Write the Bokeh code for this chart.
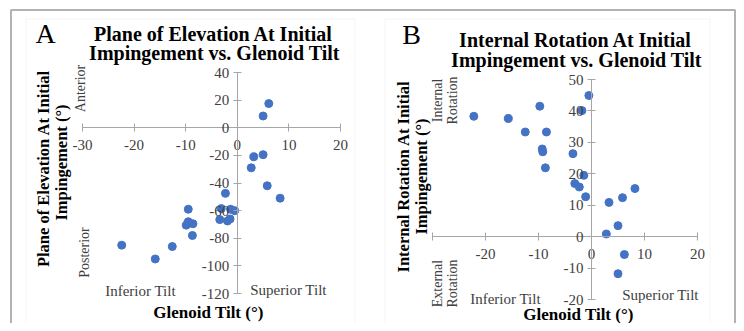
import math
from bokeh.plotting import figure
from bokeh.models import Range1d, LinearAxis, FixedTicker, Label, BoxAnnotation, ColumnDataSource
from bokeh.embed import file_html
from bokeh.resources import INLINE

# ---------------- data ----------------
# Panel A: Plane of elevation at initial impingement vs glenoid tilt
a_tilt = [-22.4, -15.9, -12.6, -9.5, -9.9, -9.5, -8.6, -8.7, -2.3, -3.1, -3.4,
          -1.3, -0.5, -1.9, -1.4, 2.7, 3.2, 5.0, 5.8, 8.3, 5.0, 6.1]
a_elev = [-85, -95, -86, -59, -70.5, -68, -69.5, -78, -47.5, -58.5, -66.5,
          -59, -60, -67.5, -66, -29, -21, -19.5, -42, -51, 8.5, 17.5]
# Panel B: Internal rotation at initial impingement vs glenoid tilt
b_tilt = [-22.2, -15.7, -12.5, -9.75, -8.5, -9.3, -9.2, -8.7, -3.5, -1.45, -3.15,
          -2.3, -1.1, -1.8, -0.5, 3.3, 5.85, 8.2, 5.0, 2.8, 6.2, 5.0]
b_rot = [38.3, 37.6, 33.3, 41.5, 33.3, 27.9, 27.0, 21.9, 26.4, 19.5, 16.9,
         15.8, 12.7, 40.1, 44.9, 10.9, 12.4, 15.3, 3.5, 0.85, -5.7, -11.8]

a_xticks = [-30, -20, -10, 0, 10, 20]
a_yticks = [-120, -100, -80, -60, -40, -20, 0, 20, 40]
b_xticks = [-30, -20, -10, 0, 10, 20]
b_yticks = [-20, -10, 0, 10, 20, 30, 40, 50]
b_hidden_xlabels = [-30]

# ---------------- layout (picture pixels) ----------------
W, H = 736, 323
PX0, PX1 = 0, W
PY0, PY1 = 0, H
FONT = "Liberation Serif"
BLUE = "#4472c4"
AXIS = "#a6a6a6"
TXT = "#404040"


def xr(v0, p0, v1, p1):
    k = (v1 - v0) / (p1 - p0)
    return Range1d(start=v0 + (PX0 - p0) * k, end=v0 + (PX1 - p0) * k)


def yr(v0, p0, v1, p1):
    k = (v1 - v0) / (p1 - p0)
    return Range1d(start=v0 + (PY1 - p0) * k, end=v0 + (PY0 - p0) * k)


p = figure(width=W, height=H, output_backend="svg", toolbar_location=None,
           x_axis_location=None, y_axis_location=None, min_border=0,
           x_range=Range1d(PX0, PX1), y_range=Range1d(PY1, PY0),
           outline_line_color=None, background_fill_color="white",
           border_fill_color="white")
p.grid.visible = False

p.extra_x_ranges = {"A": xr(-30, 82, 20, 340), "B": xr(-30, 432, 20, 697)}
p.extra_y_ranges = {"A": yr(40, 72, -120, 293), "B": yr(50, 79, -20, 299)}

# frames
p.add_layout(BoxAnnotation(left=10.5, right=734.5, top=9.5, bottom=400, fill_color=None,
                           line_color="black", line_width=2))
p.add_layout(BoxAnnotation(left=25.5, right=354.5, top=18.5, bottom=400, fill_color=None,
                           line_color="#dcdcdc", line_width=1))
p.add_layout(BoxAnnotation(left=384.5, right=709.5, top=18.5, bottom=400, fill_color=None,
                           line_color="#dcdcdc", line_width=1))


def labels_for(ticks, hidden=()):
    return {t: ("" if t in hidden else str(t)) for t in ticks}


def add_axes(name, xticks, yticks, hidden_x=()):
    xa = LinearAxis(x_range_name=name, y_range_name=name, fixed_location=0,
                    bounds=(min(xticks), max(xticks)), ticker=FixedTicker(ticks=xticks))
    ya = LinearAxis(x_range_name=name, y_range_name=name, fixed_location=0,
                    bounds=(min(yticks), max(yticks)), ticker=FixedTicker(ticks=yticks))
    xa.major_label_overrides = labels_for(xticks, hidden_x)
    ya.major_label_overrides = labels_for(yticks)
    for ax, standoff in ((xa, 8), (ya, 4)):
        ax.axis_line_color = AXIS
        ax.major_tick_line_color = AXIS
        ax.minor_tick_line_color = None
        ax.major_tick_in = 4
        ax.major_tick_out = 4
        ax.major_label_standoff = standoff
        ax.major_label_text_font = FONT
        ax.major_label_text_font_size = "15px"
        ax.major_label_text_color = TXT
    p.add_layout(xa, "below")
    p.add_layout(ya, "left")
    return xa, ya


add_axes("A", a_xticks, a_yticks)
add_axes("B", b_xticks, b_yticks, b_hidden_xlabels)

srcA = ColumnDataSource(dict(x=a_tilt, y=a_elev))
srcB = ColumnDataSource(dict(x=b_tilt, y=b_rot))
p.scatter("x", "y", source=srcA, size=8, color=BLUE, x_range_name="A", y_range_name="A")
p.scatter("x", "y", source=srcB, size=8, color=BLUE, x_range_name="B", y_range_name="B")


def lab(text, x, y, size, bold=False, angle=0.0, color="black"):
    p.add_layout(Label(x=x, y=y, text=text, text_font=FONT, text_font_size=f"{size}px",
                       text_font_style="bold" if bold else "normal", text_color=color,
                       text_align="center", text_baseline="middle", angle=angle))


R = math.pi / 2
# Panel A texts
lab("A", 45, 33, 28)
lab("Plane of Elevation At Initial", 213, 33, 20, True)
lab("Impingement vs. Glenoid Tilt", 214, 52, 20, True)
lab("Plane of Elevation At Initial", 43, 168, 16.5, True, R)
lab("Impingement (°)", 61, 162, 16.5, True, R)
lab("Anterior", 80, 88, 14, False, R, TXT)
lab("Posterior", 84, 252, 14, False, R, TXT)
lab("Inferior Tilt", 140, 290, 15, False, 0, TXT)
lab("Superior Tilt", 288, 289, 15, False, 0, TXT)
lab("Glenoid Tilt (°)", 208, 312, 17, True)

# Panel B texts
lab("B", 411, 34, 28)
lab("Internal Rotation At Initial", 575, 39, 20, True)
lab("Impingement vs. Glenoid Tilt", 576, 59, 20, True)
lab("Internal Rotation At Initial", 403, 176, 16.5, True, R)
lab("Impingement (°)", 421, 176, 16.5, True, R)
lab("Internal", 437, 100, 14, False, R, TXT)
lab("Rotation", 452, 100, 14, False, R, TXT)
lab("External", 437, 283, 14, False, R, TXT)
lab("Rotation", 452, 283, 14, False, R, TXT)
lab("Inferior Tilt", 505, 298, 15, False, 0, TXT)
lab("Superior Tilt", 660, 294, 15, False, 0, TXT)
lab("Glenoid Tilt (°)", 578, 314, 17, True)

open("out.html", "w").write(file_html(p, INLINE))
